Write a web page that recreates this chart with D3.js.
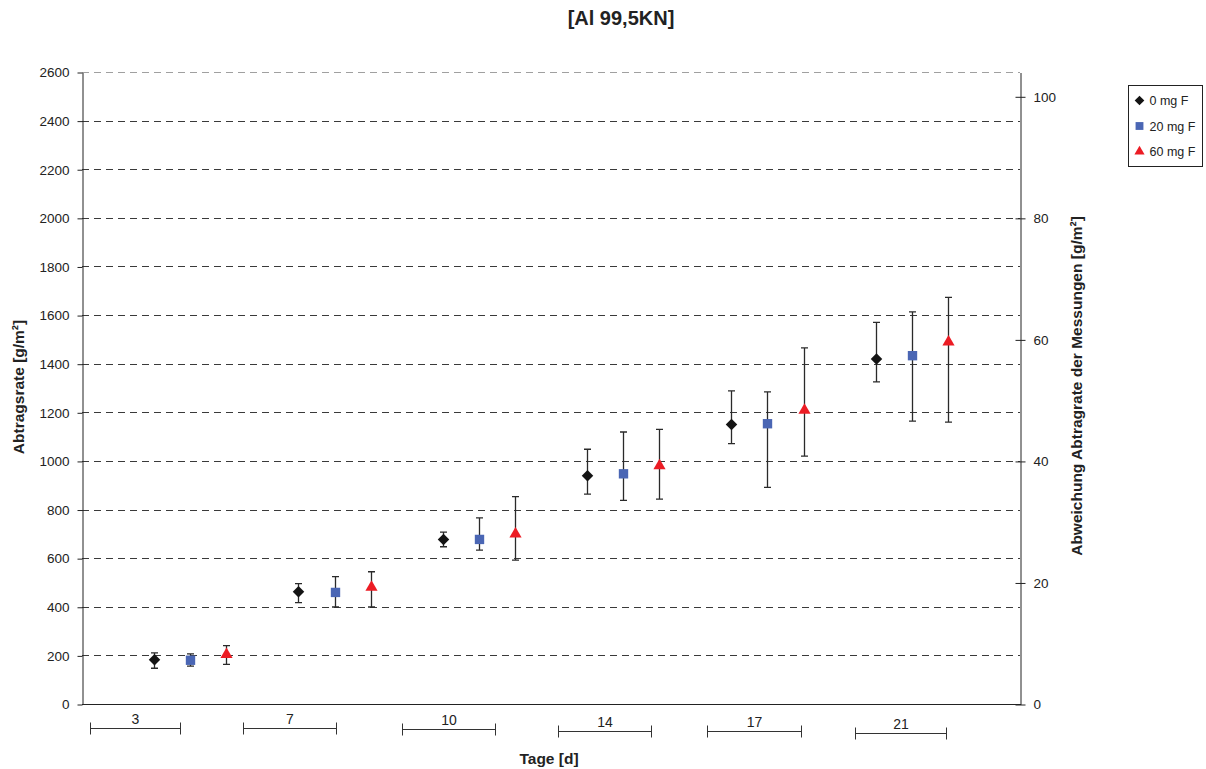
<!DOCTYPE html>
<html>
<head>
<meta charset="utf-8">
<script src="https://cdn.jsdelivr.net/npm/d3@7"></script>
<style>
  html, body { margin: 0; padding: 0; background: #fff; }
  svg { display: block; font-family: "Liberation Sans", Arial, sans-serif; }
</style>
</head>
<body>
<svg id="chart" width="1206" height="769"></svg>
<script>
// Exposure days (one group per day)
const days = ["3", "7", "10", "14", "17", "21"];
const seriesNames = ["0 mg F", "20 mg F", "60 mg F"];

// Mean material removal rate [g/m²] per day and fluoride level
const rate0 = [182, 462, 677, 939, 1150, 1419];
const rate20 = [180, 459, 677, 947, 1153, 1433];
const rate60 = [204, 480, 699, 980, 1208, 1489];

// Upper / lower ends of the spread between measurements [g/m²]
const high0 = [210, 495, 707, 1048, 1288, 1570];
const low0 = [147, 417, 647, 863, 1071, 1325];
const high20 = [206, 524, 766, 1119, 1284, 1613];
const low20 = [156, 399, 633, 838, 891, 1164];
const high60 = [240, 544, 853, 1130, 1465, 1673];
const low60 = [163, 399, 592, 843, 1020, 1160];

const leftTicks = d3.range(0, 2601, 200);
const rightTicks = [0, 20, 40, 60, 80, 100];

// ---- layout ----
const svg = d3.select("#chart");
const FONT = "Liberation Sans, Arial, sans-serif";
const m = { left: 82, right: 1020, top: 72, bottom: 704 };

// x: each day occupies one unit, the three series sit at +0.5, +0.75, +1.0
const x = d3.scaleLinear().domain([0, 6.5]).range([m.left, m.right]);
const y = d3.scaleLinear().domain([0, 2600]).range([m.bottom, m.top]);
const yR = d3.scaleLinear().domain([0, 2600 / 25]).range([m.bottom, m.top]);
const seriesOffset = [0.5, 0.75, 1.0];

// bracket spans under the plot (in x units) and their vertical drop
const brackets = [
  [0.055, 0.68, 728], [1.115, 1.76, 728], [2.22, 2.865, 729],
  [3.30, 3.94, 731], [4.33, 4.98, 731], [5.355, 5.99, 733]
];

// square turned on its corner
const diamond = {
  draw(ctx, size) {
    const r = Math.sqrt(size / 2);
    ctx.moveTo(0, -r); ctx.lineTo(r, 0); ctx.lineTo(0, r); ctx.lineTo(-r, 0); ctx.closePath();
  }
};

const series = [
  { name: seriesNames[0], mean: rate0, hi: high0, lo: low0, shape: diamond, size: 66, color: "#141414" },
  { name: seriesNames[1], mean: rate20, hi: high20, lo: low20, shape: d3.symbolSquare, size: 88, color: "#4a66b4" },
  { name: seriesNames[2], mean: rate60, hi: high60, lo: low60, shape: d3.symbolTriangle, size: 64, color: "#ec1c24" }
];

// gridlines
svg.append("g")
  .selectAll("line")
  .data(leftTicks.filter(d => d > 0))
  .join("line")
  .attr("x1", m.left).attr("x2", m.right)
  .attr("y1", d => Math.round(y(d)) + 0.5).attr("y2", d => Math.round(y(d)) + 0.5)
  .attr("stroke", d => d === 2600 ? "#a0a0a0" : "#3a3a3a")
  .attr("stroke-width", 1)
  .attr("stroke-dasharray", "7,5");

function styleAxis(ax) {
  ax.attr("font-size", 13.5).attr("font-family", FONT);
  ax.select(".domain").attr("stroke", "#222");
  ax.selectAll(".tick line").attr("stroke", "#222");
  ax.selectAll(".tick text").attr("fill", "#222");
}

// left axis
const axL = svg.append("g")
  .attr("transform", `translate(${m.left + 0.5},0.5)`)
  .call(d3.axisLeft(y).tickValues(leftTicks).tickFormat(d3.format("d"))
    .tickSize(5).tickSizeOuter(0).tickPadding(8));
styleAxis(axL);

// right axis with ticks crossing the line
const axR = svg.append("g")
  .attr("transform", `translate(${m.right + 0.5},0.5)`)
  .call(d3.axisRight(yR).tickValues(rightTicks).tickFormat(d3.format("d"))
    .tickSize(5).tickSizeOuter(0).tickPadding(8));
styleAxis(axR);
axR.selectAll(".tick line").attr("x1", -5);

// bottom axis line
svg.append("line")
  .attr("x1", m.left).attr("x2", m.right + 1)
  .attr("y1", m.bottom + 0.5).attr("y2", m.bottom + 0.5)
  .attr("stroke", "#222");

// day brackets with labels
const br = svg.append("g").attr("stroke", "#333").attr("fill", "none");
brackets.forEach((b, i) => {
  const x0 = Math.round(x(b[0])) + 0.5, x1 = Math.round(x(b[1])) + 0.5, yy = b[2] + 0.5;
  br.append("path").attr("d", `M${x0},${yy}H${x1}M${x0},${yy - 6}V${yy + 6}M${x1},${yy - 6}V${yy + 6}`);
  svg.append("text")
    .attr("x", (x0 + x1) / 2).attr("y", yy - 5)
    .attr("text-anchor", "middle").attr("font-size", 14).attr("font-family", FONT).attr("fill", "#222")
    .text(days[i]);
});

// error bars and markers
series.forEach((s, si) => {
  const g = svg.append("g");
  days.forEach((d, i) => {
    const cx = Math.round(x(i + seriesOffset[si])) + 0.5;
    const yt = y(s.hi[i]), yb = y(s.lo[i]);
    g.append("path")
      .attr("d", `M${cx},${yt}V${yb}M${cx - 3.5},${yt}H${cx + 3.5}M${cx - 3.5},${yb}H${cx + 3.5}`)
      .attr("stroke", "#2a2a2a").attr("stroke-width", 1.3).attr("fill", "none");
  });
  g.selectAll("path.mark")
    .data(s.mean)
    .join("path")
    .attr("class", "mark")
    .attr("transform", (v, i) => `translate(${Math.round(x(i + seriesOffset[si])) + 0.5},${y(v)})`)
    .attr("d", d3.symbol(s.shape, s.size))
    .attr("fill", s.color);
});

// titles
svg.append("text")
  .attr("x", 621).attr("y", 25)
  .attr("text-anchor", "middle").attr("font-size", 20).attr("font-weight", "bold")
  .attr("font-family", FONT).attr("fill", "#222")
  .text("[Al 99,5KN]");

svg.append("text")
  .attr("transform", `translate(24,387) rotate(-90)`)
  .attr("text-anchor", "middle").attr("font-size", 15.5).attr("font-weight", "bold")
  .attr("font-family", FONT).attr("fill", "#222")
  .text("Abtragsrate [g/m²]");

svg.append("text")
  .attr("transform", `translate(1082,386) rotate(-90)`)
  .attr("text-anchor", "middle").attr("font-size", 15.5).attr("font-weight", "bold")
  .attr("font-family", FONT).attr("fill", "#222")
  .text("Abweichung Abtragrate der Messungen [g/m²]");

svg.append("text")
  .attr("x", 549).attr("y", 764)
  .attr("text-anchor", "middle").attr("font-size", 15.5).attr("font-weight", "bold")
  .attr("font-family", FONT).attr("fill", "#222")
  .text("Tage [d]");

// legend
const lg = svg.append("g").attr("transform", "translate(1128.5,85.5)");
lg.append("rect").attr("width", 74).attr("height", 81).attr("fill", "#fff").attr("stroke", "#222");
series.forEach((s, i) => {
  const row = lg.append("g").attr("transform", `translate(11,${15 + i * 25.5})`);
  row.append("path").attr("d", d3.symbol(s.shape, s.size * 0.7)).attr("fill", s.color);
  row.append("text").attr("x", 10).attr("y", 4.5).attr("font-size", 12.5)
    .attr("font-family", FONT).attr("fill", "#222").text(s.name);
});
</script>
</body>
</html>
